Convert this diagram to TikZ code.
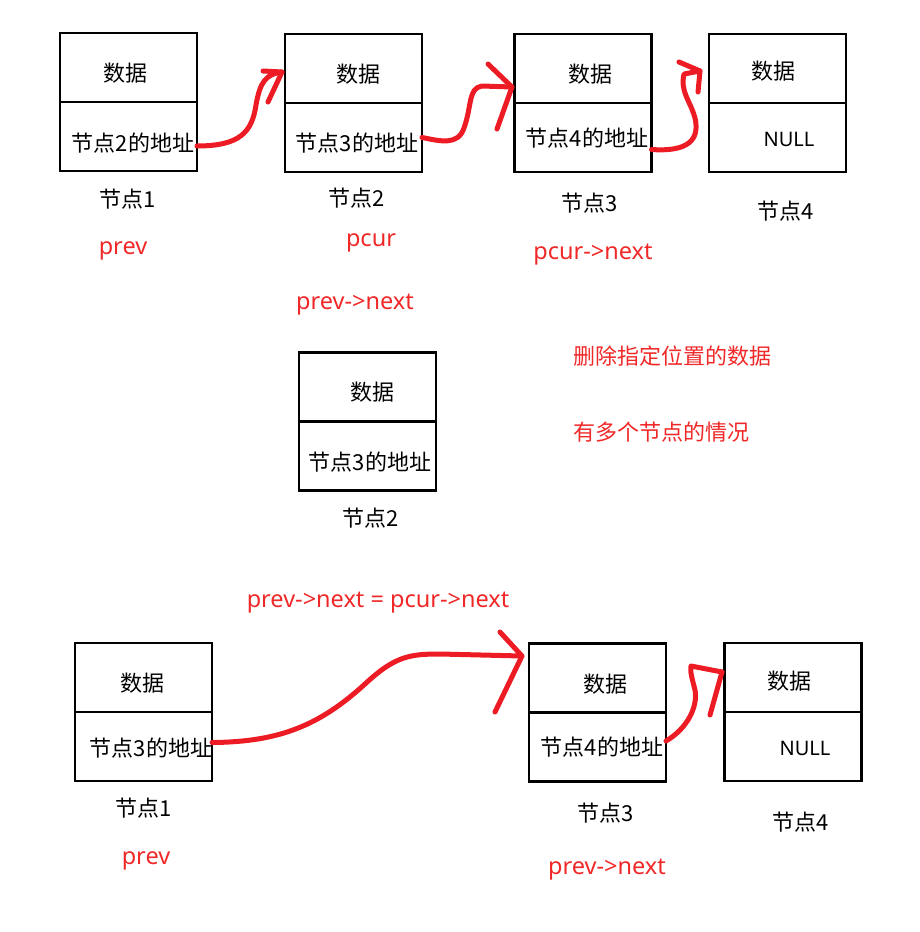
\documentclass[tikz,border=0pt]{standalone}
\usepackage{fontspec}
\setmainfont{Noto Sans CJK SC}
\newfontfamily\latinfont{Noto Sans}
\usepackage{tikz}
\usetikzlibrary{positioning}

\definecolor{paintred}{RGB}{237,28,36}
\definecolor{textred}{RGB}{240,40,40}

\newcommand{\nulltext}{{\latinfont\fontsize{20}{24}\selectfont NULL}}

\tikzset{
  cell/.style={draw, line width=2.5pt, minimum width=137pt, minimum height=69pt,
    outer sep=0pt, inner sep=0pt, text depth=0pt, text height=27pt,
    font=\fontsize{22}{26}\selectfont},
  drop/.style={text height=#1},
  tag/.style={font=\fontsize{22}{26}\selectfont},
  note/.style={text=textred, yshift=-4pt, font=\latinfont\fontsize{23.5}{28}\selectfont},
  cjknote/.style={text=textred, font=\fontsize{22}{26}\selectfont},
  scrawl/.style={draw=paintred, line width=5pt, line cap=round, line join=round}
}

\begin{document}
\begin{tikzpicture}[x=1pt, y=-1pt]
        \useasboundingbox (0,0) rectangle (920,932);

        % top row: before deleting
        \node[cell] (n1data) at (128.5,67.5) {\hspace*{-7pt}数据};
        \node[cell, drop=30pt, below=0pt of n1data] (n1addr) {\hspace*{9pt}节点2的地址};
        \node[cell] (n2data) at (353.5,68.5) {\hspace*{9pt}数据};
        \node[cell, drop=28pt, below=0pt of n2data] (n2addr) {\hspace*{7pt}节点3的地址};
        \node[cell] (n3data) at (583,68.5) {\hspace*{14pt}数据};
        \node[cell, drop=17pt, below=0pt of n3data] (n3addr) {\hspace*{8pt}节点4的地址};
        \node[cell, drop=22pt] (n4data) at (777.5,68.5) {\hspace*{-9pt}数据};
        \node[cell, drop=17pt, below=0pt of n4data] (n4addr) {\hspace*{23pt}\nulltext};

        \node[tag] (n1tag) at (128,199) {节点1};
        \node[tag] (n2tag) at (357,198) {节点2};
        \node[tag] (n3tag) at (590,203) {节点3};
        \node[tag] (n4tag) at (786,211) {节点4};

        \node[note] (prev) at (123,247) {prev};
        \node[note] (pcur) at (371,239) {pcur};
        \node[note] (pcurnext) at (593,251) {pcur->next};
        \node[note] (prevnext) at (355,301) {prev->next};

        % captions
        \node[cjknote] (title) at (672,356) {删除指定位置的数据};
        \node[cjknote] (case) at (661,432) {有多个节点的情况};

        % removed node
        \node[cell] (m2data) at (367.5,387) {\hspace*{9pt}数据};
        \node[cell, drop=28pt, below=0pt of m2data] (m2addr) {\hspace*{5pt}节点3的地址};
        \node[tag] (m2tag) at (371,518) {节点2};

        % bottom row: after deleting
        \node[note] (relink) at (378,599) {prev->next = pcur->next};

        \node[cell] (b1data) at (143.5,677.5) {\hspace*{-3pt}数据};
        \node[cell, drop=20pt, below=0pt of b1data] (b1addr) {\hspace*{15pt}节点3的地址};
        \node[cell, drop=28pt] (b3data) at (597.5,678) {\hspace*{15pt}数据};
        \node[cell, drop=17pt, below=0pt of b3data] (b3addr) {\hspace*{9pt}节点4的地址};
        \node[cell, drop=24pt] (b4data) at (793,677.5) {\hspace*{-8pt}数据};
        \node[cell, drop=17pt, below=0pt of b4data] (b4addr) {\hspace*{24pt}\nulltext};

        \node[tag] (b1tag) at (144,808) {节点1};
        \node[tag] (b3tag) at (606,813) {节点3};
        \node[tag] (b4tag) at (801,822) {节点4};

        \node[note] (bprev) at (146,857) {prev};
        \node[note] (bprevnext) at (607,866) {prev->next};

        % arrow tips
        \coordinate (t1) at (282,72);
        \coordinate (t2) at (512,87);
        \coordinate (t3) at (700,71);
        \coordinate (t4) at (522,656);
        \coordinate (t5) at (722,672);

        % hand drawn links
        \draw[scrawl] ([yshift=-9.5pt]n1addr.east) .. controls (240,146) and (252,132) .. (256,105)
            .. controls (260,82) and (266,74) .. (t1);
        \draw[scrawl] (263,71) -- (t1) -- (268,102);

        \draw[scrawl] (n2addr.east) .. controls (440,141) and (458,146) .. (464,128)
            .. controls (472,106) and (468,88) .. (482,86) -- (t2);
        \draw[scrawl] (488,64) -- (t2) -- (497,129);

        \draw[scrawl] ([yshift=-12pt]n3addr.east) .. controls (688,152) and (700,140) .. (695,118)
            .. controls (690,100) and (680,92) .. (684,74) -- (t3);
        \draw[scrawl] (679,62) -- (t3) -- (698,92);

        \draw[scrawl] ([yshift=4pt]b1addr.east) .. controls (280,742) and (320,725) .. (365,684)
            .. controls (395,656) and (410,654) .. (440,654) -- (t4);
        \draw[scrawl] (500,632) -- (t4) -- (495,712);

        \draw[scrawl] ([yshift=6pt]b3addr.east) .. controls (688,728) and (698,706) .. (695,690)
            .. controls (692,678) and (690,672) .. (691,666) -- (t5);
        \draw[scrawl] (t5) -- (710,715);

    \end{tikzpicture}
\end{document}
